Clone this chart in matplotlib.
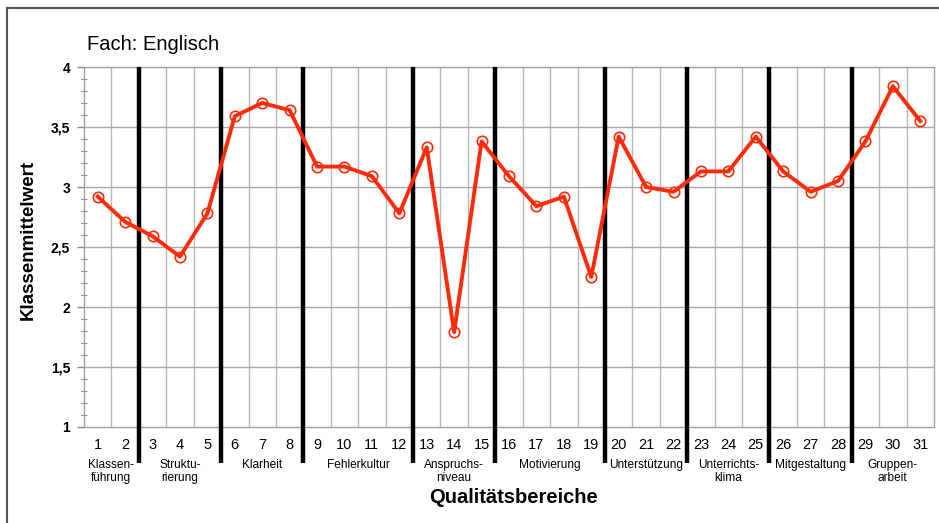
import matplotlib
matplotlib.use("Agg")
import matplotlib.pyplot as plt
import matplotlib.transforms as mtransforms
from matplotlib.lines import Line2D
import numpy as np

plt.rcParams['font.family'] = ['Liberation Sans', 'DejaVu Sans']

items = list(range(1, 32))
values = [2.92, 2.71, 2.59, 2.42, 2.78, 3.59, 3.70, 3.64, 3.17, 3.17, 3.09, 2.78,
          3.33, 1.79, 3.38, 3.09, 2.84, 2.92, 2.25, 3.42, 3.00, 2.96, 3.13, 3.13,
          3.42, 3.13, 2.96, 3.05, 3.38, 3.84, 3.55]
group_names = ["Klassen-\nführung", "Struktu-\nrierung", "Klarheit", "Fehlerkultur",
               "Anspruchs-\nniveau", "Motivierung", "Unterstützung", "Unterrichts-\nklima",
               "Mitgestaltung", "Gruppen-\narbeit"]
group_sizes = [2, 3, 3, 4, 3, 4, 3, 3, 3, 3]
ytick_vals = [1, 1.5, 2, 2.5, 3, 3.5, 4]
ytick_labels = ["1", "1,5", "2", "2,5", "3", "3,5", "4"]
title = "Fach: Englisch"
xlabel = "Qualitätsbereiche"
ylabel = "Klassenmittelwert"

W, H = 939, 523
fig = plt.figure(figsize=(W / 100, H / 100), dpi=100)
ax = fig.add_axes([84 / W, 1 - 427 / H, 850 / W, 360 / H])

ax.set_xlim(0.5, 31.5)
ax.set_ylim(1, 4)

# grid
for xv in np.arange(1.5, 31.5, 1.0):
    ax.axvline(xv, color='#b8b8b8', lw=1.0, zorder=1)
for yv in ytick_vals[1:-1]:
    ax.axhline(yv, color='#a8a8a8', lw=1.0, zorder=1)

# group boundaries
bounds = np.cumsum(group_sizes)[:-1] + 0.5
ax.vlines(bounds, 0.70, 4.0, colors='black', lw=3.2, zorder=3, clip_on=False)

# data line
ax.plot(items, values, color='#ff2a0a', lw=2.8, zorder=4, clip_on=False)
ax.plot(items, values, ls='none', marker='o', ms=7.5, mfc='none', mec='#ff2a0a',
        mew=1.2, zorder=5, clip_on=False)

# ticks
ax.set_xticks(items)
ax.set_xticklabels([str(i) for i in items], fontsize=10.5)
ax.tick_params(axis='x', length=0, pad=8)
ax.set_yticks(ytick_vals)
ax.set_yticklabels(ytick_labels, fontsize=10, fontweight='bold')
ax.set_yticks(np.arange(1, 4.0001, 0.1), minor=True)
ax.tick_params(axis='y', which='major', direction='out', length=5, width=1,
               color='#888888', pad=5)
ax.tick_params(axis='y', which='minor', direction='inout', length=5, width=0.8,
               color='#888888')

for s in ax.spines.values():
    s.set_color('#a0a0a0')
    s.set_linewidth(1.0)

# group labels
trans = mtransforms.blended_transform_factory(ax.transData, ax.transAxes)
starts = np.concatenate([[0], np.cumsum(group_sizes)[:-1]])
for name, st, sz in zip(group_names, starts, group_sizes):
    cx = st + 1 + (sz - 1) / 2
    ax.text(cx, -0.088, name, transform=trans, ha='center', va='top',
            fontsize=8.6, linespacing=1.12)

ax.set_xlabel(xlabel, fontsize=14.5, fontweight='bold')
ax.xaxis.set_label_coords(0.505, -0.196, transform=ax.transAxes)
ax.xaxis.label.set_va('center')
ax.set_ylabel(ylabel, fontsize=13.5, fontweight='bold')
ax.yaxis.set_label_coords(-0.055, 0.52)

fig.text(87 / W, 1 - 44 / H, title, fontsize=14.5, ha='left', va='center')

# outer frame
fig.add_artist(Line2D([7 / W, 1.0], [1 - 8 / H, 1 - 8 / H], color='#555555', lw=1.5))
fig.add_artist(Line2D([7 / W, 7 / W], [0, 1 - 8 / H], color='#555555', lw=1.5))

fig.savefig("out.png", dpi=100)
